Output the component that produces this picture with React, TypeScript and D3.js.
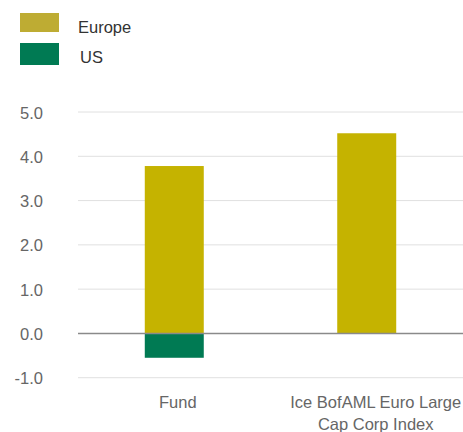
import React from 'react';
import * as d3 from 'd3';

const categories = ['Fund', 'Ice BofAML Euro Large Cap Corp Index'];
const categoryLines = [['Fund'], ['Ice BofAML Euro Large', 'Cap Corp Index']];
const europeValues = [3.78, 4.52];
const usValues = [-0.55, 0];
const yTicks = [-1, 0, 1, 2, 3, 4, 5];
const seriesNames = ['Europe', 'US'];
const seriesColors = ['#c5b300', '#007a53'];
const legendColors = ['#beac33', '#007a53'];

const W = 463;
const H = 432;
const font = '"Liberation Sans", Arial, sans-serif';
// labels sit a little right of the bar centres in the original
const labelShift = [3.5, 9];
// plain hyphen for negatives, like the original
const fmt = d3.formatLocale({ decimal: '.', thousands: ',', grouping: [3], currency: ['', ''], minus: '-' }).format('.1f');

const App = () => {
	const x = d3.scaleBand<string>().domain(categories).range([78, 463]).paddingInner(0.6935).paddingOuter(0.347);
	const y = d3.scaleLinear().domain([-1, 5]).range([377.7, 112]);

	return (
		<svg width={W} height={H} style={{ position: 'absolute', left: 0, top: 0 }}>
			{/* legend */}
			{seriesNames.map((name, i) => (
				<g key={name}>
					<rect x={20} y={i === 0 ? 13 : 43} width={39} height={i === 0 ? 19 : 22} fill={legendColors[i]} />
					<text
						x={i === 0 ? 78 : 80}
						y={i === 0 ? 33 : 63}
						fontFamily={font}
						fontSize={16.5}
						fill="#333"
					>
						{name}
					</text>
				</g>
			))}

			{/* grid + y labels */}
			{yTicks.map((t) => (
				<g key={t}>
					{t !== 0 && <line x1={78} x2={463} y1={y(t)} y2={y(t)} stroke="#e0e0e0" strokeWidth={1} />}
					<text
						x={43}
						y={y(t) + 6.5}
						textAnchor="end"
						fontFamily={font}
						fontSize={16.5}
						fill="#666"
					>
						{fmt(t)}
					</text>
				</g>
			))}

			{/* bars */}
			{categories.map((c, i) => (
				<g key={c}>
					<rect
						x={x(c)}
						width={x.bandwidth()}
						y={y(europeValues[i])}
						height={y(0) - y(europeValues[i])}
						fill={seriesColors[0]}
					/>
					{usValues[i] !== 0 && (
						<rect
							x={x(c)}
							width={x.bandwidth()}
							y={y(Math.max(0, usValues[i]))}
							height={Math.abs(y(usValues[i]) - y(0))}
							fill={seriesColors[1]}
						/>
					)}
				</g>
			))}

			{/* zero line */}
			<line x1={78} x2={463} y1={y(0)} y2={y(0)} stroke="#8a8a8a" strokeWidth={1.5} />

			{/* category labels */}
			{categories.map((c, i) => {
				const cx = (x(c) as number) + x.bandwidth() / 2 + labelShift[i];
				return (
					<text key={c} textAnchor="middle" fontFamily={font} fontSize={16.5} fill="#666">
						{categoryLines[i].map((line, j) => (
							<tspan key={j} x={cx} y={408 + j * 22}>
								{line}
							</tspan>
						))}
					</text>
				);
			})}
		</svg>
	);
};

export default App;
